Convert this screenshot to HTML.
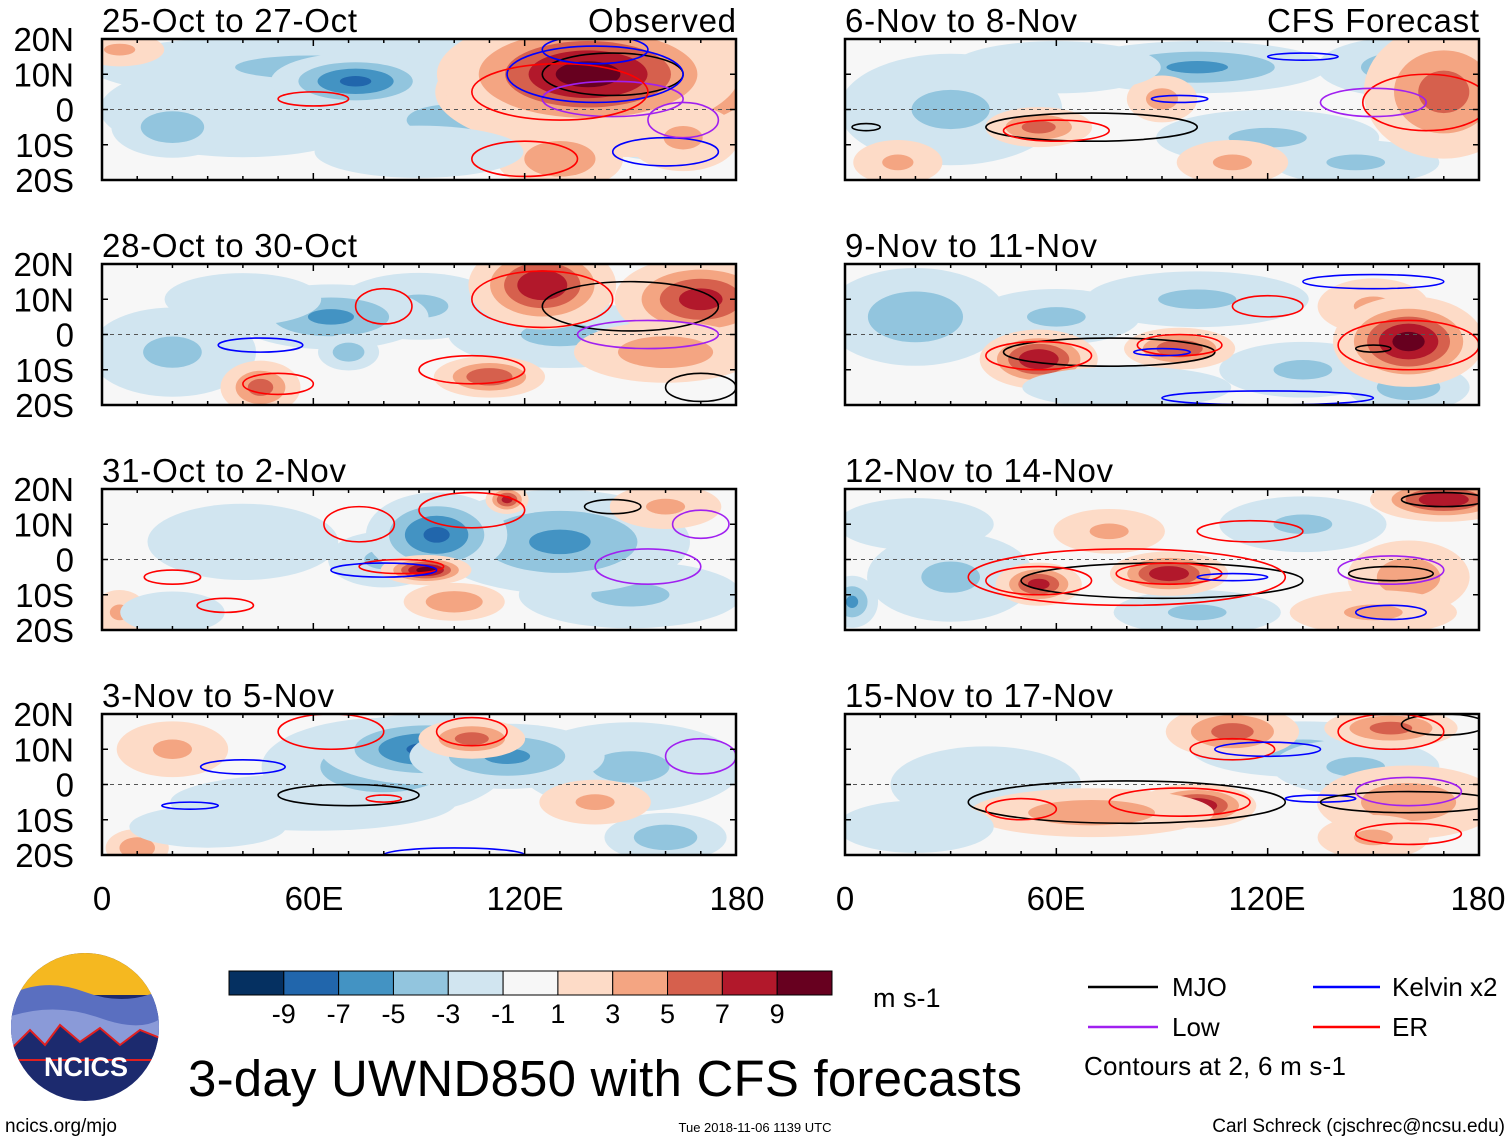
<!DOCTYPE html>
<html><head><meta charset="utf-8">
<style>
html,body{margin:0;padding:0;background:#fff;}
svg{display:block;font-family:"Liberation Sans",sans-serif;}
</style></head>
<body>
<svg id="fig" width="1510" height="1142" viewBox="0 0 1510 1142">
<defs>
<clipPath id="logoclip"><circle cx="85" cy="1027" r="74"/></clipPath>
</defs>
<g id="panels"></g>

<g font-size="33" text-anchor="middle" fill="#000">
<text x="102" y="910">0</text><text x="314" y="910">60E</text><text x="525" y="910">120E</text><text x="737" y="910">180</text>
</g>
<g font-size="33" text-anchor="middle" fill="#000">
<text x="845" y="910">0</text><text x="1056" y="910">60E</text><text x="1267" y="910">120E</text><text x="1478" y="910">180</text>
</g>

<g id="colorbar"></g>
<text x="873" y="1007" font-size="27">m s-1</text>

<g font-size="26">
<line x1="1088" y1="987" x2="1158" y2="987" stroke="#000" stroke-width="2.5"/>
<text x="1172" y="996">MJO</text>
<line x1="1088" y1="1027" x2="1158" y2="1027" stroke="#a020f0" stroke-width="2.5"/>
<text x="1172" y="1036">Low</text>
<line x1="1313" y1="987" x2="1380" y2="987" stroke="#0000ff" stroke-width="2.5"/>
<text x="1392" y="996">Kelvin x2</text>
<line x1="1313" y1="1027" x2="1380" y2="1027" stroke="#ff0000" stroke-width="2.5"/>
<text x="1392" y="1036">ER</text>
<text x="1084" y="1075" textLength="262">Contours at 2, 6 m s-1</text>
</g>

<g clip-path="url(#logoclip)">
<rect x="0" y="950" width="170" height="160" fill="#1c2a6e"/>
<rect x="0" y="950" width="170" height="45" fill="#f5b820"/>
<path d="M0 1000 Q40 975 85 992 T170 985 L170 1040 L0 1040Z" fill="#5a6fc0"/>
<path d="M0 1020 Q50 1000 100 1018 T170 1010 L170 1050 L0 1050Z" fill="#8a9ad8"/>
<path d="M10 1050 L30 1030 L45 1045 L60 1025 L80 1042 L100 1028 L120 1045 L140 1030 L165 1040 L165 1060 L10 1060Z" fill="#1c2a6e" stroke="#e02020" stroke-width="2"/>
</g>
<text x="86" y="1076" font-size="27" font-weight="bold" fill="#fff" text-anchor="middle">NCICS</text>

<text x="188" y="1096" font-size="51" textLength="834">3-day UWND850 with CFS forecasts</text>
<text x="5" y="1132" font-size="19">ncics.org/mjo</text>
<text x="755" y="1132" font-size="13" text-anchor="middle">Tue 2018-11-06 1139 UTC</text>
<text x="1505" y="1132" font-size="19" text-anchor="end">Carl Schreck (cjschrec@ncsu.edu)</text>
</svg>
<script>
// ---- data ----
const panelTitles = ["25-Oct to 27-Oct","6-Nov to 8-Nov","28-Oct to 30-Oct","9-Nov to 11-Nov","31-Oct to 2-Nov","12-Nov to 14-Nov","3-Nov to 5-Nov","15-Nov to 17-Nov"];
const latLabels = ["20N","10N","0","10S","20S"];
const latTicks = [20,10,0,-10,-20];
const cbLevels = [-9,-7,-5,-3,-1,1,3,5,7,9];
const cbColors = ["#053061","#2166ac","#4393c3","#92c5de","#d1e5f0","#f7f7f7","#fddbc7","#f4a582","#d6604d","#b2182b","#67001f"];
// wind anomaly blobs per panel: [lon, lat, peak value, lon half-width, lat half-width]
const blobs0 = [[40,0,-2.5,30,10],[100,15,-3.5,20,5],[60,12,-3.5,40,6],[72,8,-7.5,12,4],[20,-5,-4.5,10,5],[100,-3,-4.5,15,5],[160,-5,-3.5,15,6],[150,5,5.5,30,10],[138,10,10,20,8],[130,-14,5,10,5],[5,17,3.5,8,3],[165,-8,3.5,10,6],[90,-12,-3,20,5]];
const blobs1 = [[30,0,-3.5,20,10],[100,12,-5.5,20,4],[160,12,-4.5,15,5],[120,-8,-3.5,20,5],[145,-15,-3.5,15,4],[170,5,6,12,10],[90,3,4,6,4],[55,-5,6,8,3],[110,-15,3.5,10,4],[15,-15,3.5,8,4],[60,12,-3,20,5]];
const blobs2 = [[20,-5,-3.5,15,8],[90,8,-3.5,15,6],[130,0,-3.5,20,6],[65,5,-5.5,15,5],[70,-5,-4.5,5,3],[125,14,9,10,6],[170,10,8,12,6],[110,-12,7,8,3],[45,-15,6,6,4],[160,-5,4.5,15,5],[40,10,-3,15,5]];
const blobs3 = [[20,5,-4.5,15,8],[100,10,-3.5,20,5],[60,5,-3.5,15,5],[130,-10,-3.5,15,5],[160,-15,-4.5,10,4],[150,8,3.5,10,5],[55,-7,9,8,4],[95,-4,7,8,3],[160,-2,10,10,6],[80,-15,-3,20,4]];
const blobs4 = [[40,5,-2.5,20,8],[150,-10,-3.5,20,6],[130,5,-5.5,20,8],[80,0,-3.5,10,5],[95,7,-7.5,10,6],[92,-3,10,6,2],[115,17,8,3,2],[100,-12,5,8,3],[5,-15,3.5,5,4],[160,15,3.5,10,4],[20,-15,-3,10,4]];
const blobs5 = [[30,-5,-3.5,15,8],[130,10,-3.5,15,5],[100,-15,-3.5,15,4],[2,-12,-5.5,4,4],[160,-5,4.5,10,6],[75,8,3.5,10,4],[150,-15,3.5,15,4],[170,17,9,10,3],[92,-4,9,8,3],[55,-7,8,6,3],[20,10,-3,15,5]];
const blobs6 = [[60,-5,-2.5,30,6],[150,5,-3.5,20,8],[80,5,-4.5,20,8],[92,10,-7.5,15,5],[115,8,-5.5,15,5],[160,-15,-4.5,10,4],[105,13,6,8,3],[20,10,3.5,10,5],[10,-18,5,5,3],[140,-5,3.5,10,4],[30,-12,-3,15,4]];
const blobs7 = [[40,0,-2.5,20,8],[130,10,-3.5,20,5],[145,5,-3.5,15,5],[100,-6,9,8,3],[110,15,6,10,4],[155,16,6,10,3],[160,-5,4.5,15,6],[70,-8,4.5,20,4],[150,-15,3.5,10,4],[20,-12,-3,15,5]];
// filtered-wave contours per panel: [type, lon, lat, lon radius, lat radius]
const cont0 = [["M",145,10,20,6],["L",145,3,20,5],["K",140,10,25,8],["E",130,5,25,8],["E",60,3,10,2],["E",120,-14,15,5],["K",160,-12,15,4],["K",140,17,15,4],["L",165,-3,10,5]];
const cont1 = [["M",70,-5,30,4],["E",60,-6,15,3],["K",95,3,8,1],["E",165,2,18,8],["L",150,2,15,4],["K",130,15,10,1],["M",6,-5,4,1]];
const cont2 = [["M",150,8,25,7],["E",125,10,20,8],["E",105,-10,15,4],["E",50,-14,10,3],["K",45,-3,12,2],["E",80,8,8,5],["L",155,0,20,4],["M",170,-15,10,4]];
const cont3 = [["M",75,-5,30,4],["E",55,-6,15,4],["E",95,-3,12,3],["K",90,-5,8,1],["E",160,-3,20,7],["M",150,-4,5,1],["K",150,15,20,2],["E",120,8,10,3],["K",120,-18,30,2]];
const cont4 = [["M",145,15,8,2],["E",105,14,15,5],["E",73,10,10,5],["E",85,-2,12,2],["K",80,-3,15,2],["L",155,-2,15,5],["E",20,-5,8,2],["E",35,-13,8,2],["L",170,10,8,4]];
const cont5 = [["M",90,-6,40,5],["E",80,-5,45,8],["E",55,-6,15,4],["E",92,-4,15,3],["K",110,-5,10,1],["M",155,-4,12,2],["L",155,-3,15,4],["E",115,8,15,3],["K",155,-15,10,2],["M",170,17,12,2]];
const cont6 = [["M",70,-3,20,3],["K",40,5,12,2],["K",25,-6,8,1],["E",65,15,15,5],["E",105,15,10,4],["E",80,-4,5,1],["K",100,-20,20,2],["L",170,8,10,5]];
const cont7 = [["M",80,-5,45,6],["E",95,-5,20,4],["E",50,-7,10,3],["E",110,10,12,3],["K",120,10,15,2],["K",135,-4,10,1],["M",160,-5,25,3],["L",160,-2,15,4],["E",160,-14,15,3],["M",170,17,12,3],["E",155,15,15,5]];
const allBlobs=[blobs0,blobs1,blobs2,blobs3,blobs4,blobs5,blobs6,blobs7];
const allCont=[cont0,cont1,cont2,cont3,cont4,cont5,cont6,cont7];
const contColors={M:"#000000",L:"#a020f0",K:"#0000ff",E:"#ff0000"};

// ---- drawing ----
const NS="http://www.w3.org/2000/svg";
function mk(tag,attrs,parent){const e=document.createElementNS(NS,tag);for(const k in attrs)e.setAttribute(k,attrs[k]);parent.appendChild(e);return e;}
const rowY=[39,264,489,714], colX=[102,845], PW=634, PH=141;
const titleLens=[255,232,255,252,244,268,232,268];
function colorFor(v){let i=0;while(i<cbLevels.length&&v>cbLevels[i])i++;return cbColors[i];}
const root=document.getElementById('panels');
for(let p=0;p<8;p++){
  const x0=colX[p%2], y0=rowY[Math.floor(p/2)];
  const xs=lon=>x0+lon/180*PW, ys=lat=>y0+(20-lat)/40*PH;
  const g=mk('g',{},root);
  
  
  const cid='clip'+p;
  const cp=mk('clipPath',{id:cid},g);mk('rect',{x:x0,y:y0,width:PW,height:PH},cp);
  const inner=mk('g',{'clip-path':'url(#'+cid+')'},g);
  mk('rect',{x:x0,y:y0,width:PW,height:PH,fill:'#f7f7f7'},inner);
  allBlobs[p].forEach((b,bi)=>{
    const [lon,lat,v,rl,ra]=b, a=Math.abs(v), s=Math.sign(v);
    [1,3,5,7,9].forEach(t=>{
      if(a<=t) return;
      const k=Math.sqrt(2*Math.log(a/t));
      const e=mk('ellipse',{cx:xs(lon),cy:ys(lat),rx:rl*k/180*PW,ry:ra*k/40*PH,fill:colorFor(s*(t+1))},inner);
      
      
    });
  });
  mk('line',{x1:x0,y1:ys(0),x2:x0+PW,y2:ys(0),stroke:'#555','stroke-dasharray':'4 4','stroke-width':1},inner);
  allCont[p].forEach(c=>{
    const [t,lon,lat,rl,ra]=c;
    const e=mk('ellipse',{cx:xs(lon),cy:ys(lat),rx:rl/180*PW,ry:ra/40*PH,fill:'none',stroke:contColors[t],'stroke-width':1.6},inner);
    
    
  });
  const fr=mk('rect',{x:x0,y:y0,width:PW,height:PH,fill:'none',stroke:'#000','stroke-width':2.5},g);
  
  
  for(let lon=0;lon<=180;lon+=10){const L=lon%60===0?7:4;
    mk('line',{x1:xs(lon),y1:y0+PH,x2:xs(lon),y2:y0+PH-L,stroke:'#000','stroke-width':1.5},g);
    mk('line',{x1:xs(lon),y1:y0,x2:xs(lon),y2:y0+L,stroke:'#000','stroke-width':1.5},g);}
  latTicks.forEach(la=>{mk('line',{x1:x0,y1:ys(la),x2:x0+6,y2:ys(la),stroke:'#000','stroke-width':1.5},g);
    mk('line',{x1:x0+PW,y1:ys(la),x2:x0+PW-6,y2:ys(la),stroke:'#000','stroke-width':1.5},g);});
  const tt=mk('text',{x:x0,y:y0-7,'font-size':33,textLength:titleLens[p]},g);tt.textContent=panelTitles[p];
  
  
  if(p===0){const o=mk('text',{x:x0+PW-148,y:y0-7,'font-size':33,textLength:148},g);o.textContent='Observed';
    
    }
  if(p===1){const o=mk('text',{x:x0+PW-212,y:y0-7,'font-size':33,textLength:212},g);o.textContent='CFS Forecast';
    
    }
  if(p%2===0){latTicks.forEach((la,i)=>{const t=mk('text',{x:74,y:ys(la)+12,'font-size':33,'text-anchor':'end'},g);t.textContent=latLabels[i];
    
    });}
}
// colorbar
const cb=document.getElementById('colorbar');
const cbX=229, cbW=603, cbY=971, cbH=24, bw=cbW/cbColors.length;
cbColors.forEach((c,i)=>{const r=mk('rect',{x:cbX+i*bw,y:cbY,width:bw,height:cbH,fill:c,stroke:'#000','stroke-width':1},cb);
  
  });
cbLevels.forEach((v,i)=>{
  const t=mk('text',{x:cbX+(i+1)*bw,y:1023,'font-size':27,'text-anchor':'middle'},cb);t.textContent=v;
  
  });
</script>
</body></html>
